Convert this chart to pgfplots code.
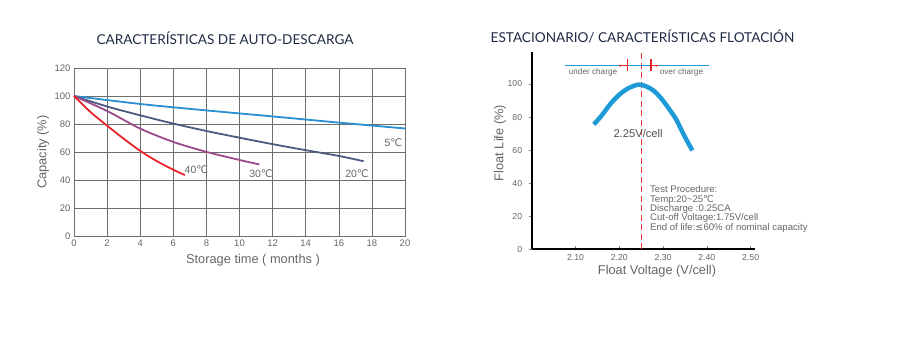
\documentclass[border=0pt]{standalone}
\usepackage{pgfplots}
\pgfplotsset{compat=1.18}
\usetikzlibrary{arrows.meta}
\usepackage{fontspec}
\setmainfont{Liberation Sans}
\newfontfamily\titlefont{Lato}
\newfontfamily\sym{DejaVu Sans}
\newcommand\degC{{\sym ℃}}
\definecolor{titlecol}{HTML}{1F2A44}
\definecolor{gridcol}{HTML}{6E6E6E}
\definecolor{labcol}{HTML}{666666}
\definecolor{cA}{HTML}{2A8FD0}
\definecolor{cB}{HTML}{4A5A80}
\definecolor{cC}{HTML}{9B4A8C}
\definecolor{cD}{HTML}{E8232A}
\definecolor{flt}{HTML}{1E9BD7}
\definecolor{dashred}{HTML}{E8323C}
\begin{document}
\begin{tikzpicture}[x=1pt,y=1pt]
\path[use as bounding box] (0,0) rectangle (899,352);
\node[font=\titlefont\fontsize{13.6}{15}\selectfont, text=titlecol] at (225,313.7) {CARACTERÍSTICAS DE AUTO-DESCARGA};
\node[font=\titlefont\fontsize{13.6}{15}\selectfont, text=titlecol] at (642.5,315.3) {ESTACIONARIO/ CARACTERÍSTICAS FLOTACIÓN};
\begin{axis}[at={(74pt,116pt)}, anchor=south west, scale only axis,
  width=331pt, height=168pt, xmin=0, xmax=20, ymin=0, ymax=120,
  xtick={0,2,...,20}, ytick={0,20,...,120},
  grid=major, grid style={gridcol, line width=0.6pt},
  axis line style={gridcol, line width=0.7pt}, tick style={draw=none},
  tick label style={font=\fontsize{9.5}{10}\selectfont, text=labcol},
  /pgf/number format/assume math mode=true, clip=false]
\addplot[cA, line width=1.8pt, smooth] coordinates {(0,100) (4,94.3) (8,89.7) (12,85.4) (16,81) (20,76.8)};
\addplot[cB, line width=1.8pt, smooth] coordinates {(0,100) (2,92.5) (4,86.2) (6,80.3) (8,75) (10,70.2) (12,65.6) (14,61.3) (16,57.2) (17.5,53.4)};
\addplot[cC, line width=1.8pt, smooth] coordinates {(0,100) (2,89.3) (4,76.7) (6,67.2) (8,60.1) (10,54.3) (11.2,51.1)};
\addplot[cD, line width=1.8pt, smooth] coordinates {(0,100) (1,88.5) (2,78.8) (3,69.5) (4,60.8) (5,53.5) (6,47.3) (6.7,43.5)};
\node[font=\fontsize{10.5}{11}\selectfont, text=labcol] at (axis cs:19.3,67) {5\degC};
\node[font=\fontsize{10.5}{11}\selectfont, text=labcol] at (axis cs:17.1,44.7) {20\degC};
\node[font=\fontsize{10.5}{11}\selectfont, text=labcol] at (axis cs:11.3,44.2) {30\degC};
\node[font=\fontsize{10.5}{11}\selectfont, text=labcol] at (axis cs:7.4,47.5) {40\degC};
\end{axis}
\node[font=\fontsize{12.8}{14}\selectfont, text=labcol] at (253,92) {Storage time ( months )};
\node[font=\fontsize{12.8}{14}\selectfont, text=labcol, rotate=90] at (43,200) {Capacity (\%)};
\begin{axis}[at={(531.7pt,102.7pt)}, anchor=south west, scale only axis,
  width=223.3pt, height=197.6pt, xmin=2.0, xmax=2.51, ymin=0, ymax=119.5,
  axis x line=bottom, axis y line=left,
  axis line style={-, black, line width=1.8pt},
  xtick={2.1,2.2,2.3,2.4,2.5}, ytick={0,20,...,100},
  xticklabel style={/pgf/number format/.cd, fixed, fixed zerofill, precision=2},
  tick align=outside, major tick length=3pt,
  tick style={gray, line width=0.5pt},
  every x tick/.append style={yshift=3.5pt},
  tick label style={font=\fontsize{8.7}{9}\selectfont, text=labcol},
  xticklabel shift=-1.5pt, yticklabel shift=3pt,
  /pgf/number format/assume math mode=true, clip=false]
\addplot[draw=dashred, line width=1.3pt, dash pattern=on 6pt off 3.5pt] coordinates {(2.25,0) (2.25,60) (2.25,119)};
\addplot[flt, line width=4.5pt, smooth] coordinates {(2.142,75.5) (2.16,81) (2.18,88) (2.20,93.5) (2.22,97.3) (2.2435,99.6) (2.26,98.7) (2.278,96) (2.295,91.5) (2.316,84.1) (2.33,78.5) (2.346,70) (2.358,64) (2.367,59.8)};
\addplot[draw=flt, line width=1pt] coordinates {(2.075,111) (2.24,111) (2.405,111)};
\addplot[cD, line width=0.8pt] coordinates {(2.218,108) (2.218,115)};
\addplot[cD, line width=1.8pt] coordinates {(2.272,108) (2.272,115)};
\addplot[cD, line width=0.5pt, -{Stealth[length=2.5pt,width=2pt]}] coordinates {(2.217,111) (2.198,111)};
\addplot[cD, line width=0.5pt, -{Stealth[length=2.5pt,width=2pt]}] coordinates {(2.273,111) (2.29,111)};
\node[font=\fontsize{8.2}{9}\selectfont, text=labcol] at (axis cs:2.14,107.1) {under charge};
\node[font=\fontsize{8.2}{9}\selectfont, text=labcol] at (axis cs:2.342,107.1) {over charge};
\node[font=\fontsize{11.2}{12}\selectfont, text=labcol!80!black] at (axis cs:2.243,70) {2.25V/cell};
\node[font=\fontsize{9.6}{9.4}\selectfont, text=labcol, anchor=north west, align=left, inner sep=0pt] at (axis cs:2.270,38.5) {Test Procedure:\\Temp:20\textasciitilde 25\degC\\Discharge :0.25CA\\Cut-off Voltage:1.75V/cell\\End of life:{\sym ≤}60\% of nominal capacity};
\end{axis}
\node[font=\fontsize{12.8}{14}\selectfont, text=labcol] at (657,81) {Float Voltage (V/cell)};
\node[font=\fontsize{12.8}{14}\selectfont, text=labcol, rotate=90] at (500,209) {Float Life (\%)};
\end{tikzpicture}
\end{document}
